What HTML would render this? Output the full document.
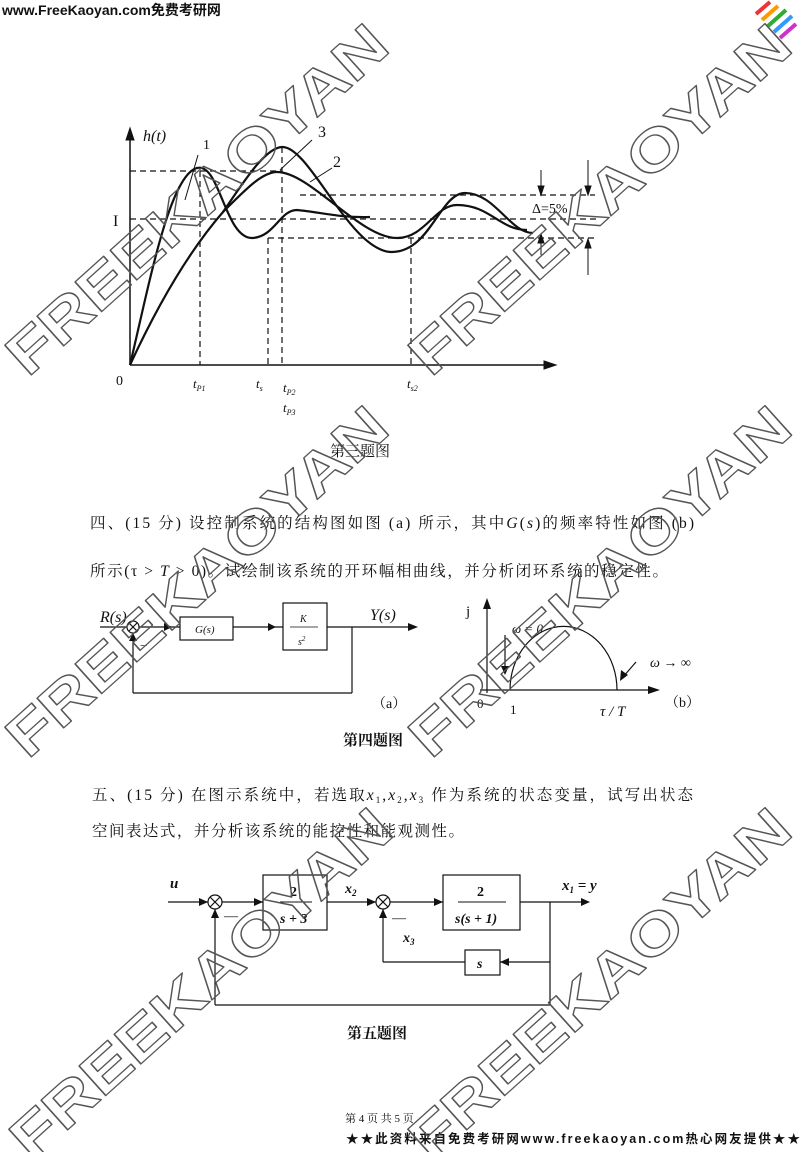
<!DOCTYPE html>
<html><head><meta charset="utf-8"><style>
body{margin:0;background:#fff;}
svg{display:block;}
.t{font-family:"Liberation Serif","Noto Serif CJK SC",serif;fill:#111;}
.s{font-family:"Liberation Sans","Noto Sans CJK SC",sans-serif;fill:#111;}
.wm{font-family:"Liberation Sans",sans-serif;font-weight:bold;font-size:58px;fill:none;stroke:#555;stroke-width:1.3;stroke-linejoin:round;}
</style></head><body>
<svg width="800" height="1152" viewBox="0 0 800 1152" xmlns="http://www.w3.org/2000/svg">
<rect width="800" height="1152" fill="#fff"/>
<text x="2" y="15" class="s" font-size="14" font-weight="bold">www.FreeKaoyan.com免费考研网</text>
<g stroke-width="4">
<line x1="756" y1="14" x2="770" y2="2" stroke="#e33"/>
<line x1="762" y1="20" x2="778" y2="6" stroke="#f90"/>
<line x1="768" y1="26" x2="786" y2="10" stroke="#3a3"/>
<line x1="774" y1="32" x2="792" y2="16" stroke="#39f"/>
<line x1="780" y1="38" x2="796" y2="24" stroke="#c3c"/>
</g>

<g stroke="#111" fill="none">
<line x1="130" y1="365" x2="130" y2="135" stroke-width="1.5"/>
<polygon points="130,128 126,140 134,140" fill="#111"/>
<line x1="130" y1="365" x2="545" y2="365" stroke-width="1.5"/>
<polygon points="556,365 544,361 544,369" fill="#111"/>
<g stroke-dasharray="6,4" stroke-width="1.2">
<line x1="130" y1="171" x2="282" y2="171"/>
<line x1="130" y1="219" x2="600" y2="219"/>
<line x1="300" y1="195" x2="595" y2="195"/>
<line x1="268" y1="238" x2="595" y2="238"/>
<line x1="200" y1="171" x2="200" y2="365"/>
<line x1="268" y1="238" x2="268" y2="365"/>
<line x1="282" y1="147" x2="282" y2="365"/>
<line x1="411" y1="238" x2="411" y2="365"/>
</g>
<g stroke-width="2.2">
<path d="M130,365 C150,280 170,175 197,168 C220,162 225,240 253,238 C275,236 280,210 297,210 C320,212 340,218 370,217"/>
<path d="M130,365 C160,300 190,250 223,212 C245,180 265,148 282,147 C310,146 350,252 392,252 C430,252 440,193 465,193 C495,193 510,233 533,233"/>
<path d="M223,212 C245,190 262,172 277,172 C310,172 360,238 397,238 C425,238 435,205 457,205 C490,205 500,230 527,230"/>
</g>
<line x1="185" y1="200" x2="198" y2="155" stroke-width="1"/>
<line x1="280" y1="170" x2="312" y2="140" stroke-width="1"/>
<line x1="310" y1="182" x2="332" y2="168" stroke-width="1"/>
<line x1="541" y1="170" x2="541" y2="190"/><polygon points="541,195 538,186 544,186" fill="#111"/>
<line x1="541" y1="255" x2="541" y2="240"/><polygon points="541,234 538,243 544,243" fill="#111"/>
<line x1="588" y1="160" x2="588" y2="190"/><polygon points="588,195 585,186 591,186" fill="#111"/>
<line x1="588" y1="275" x2="588" y2="245"/><polygon points="588,239 585,248 591,248" fill="#111"/>
</g>
<text x="143" y="141" class="t" font-size="16" font-style="italic">h(t)</text>
<text x="203" y="149" class="t" font-size="14">1</text>
<text x="318" y="137" class="t" font-size="16">3</text>
<text x="333" y="167" class="t" font-size="16">2</text>
<text x="113" y="226" class="t" font-size="16">I</text>
<text x="116" y="385" class="t" font-size="14">0</text>
<text x="193" y="388" class="t" font-size="13" font-style="italic">t<tspan font-size="8" dy="3">P1</tspan></text>
<text x="256" y="388" class="t" font-size="13" font-style="italic">t<tspan font-size="8" dy="3">s</tspan></text>
<text x="283" y="392" class="t" font-size="13" font-style="italic">t<tspan font-size="8" dy="3">P2</tspan></text>
<text x="283" y="412" class="t" font-size="13" font-style="italic">t<tspan font-size="8" dy="3">P3</tspan></text>
<text x="407" y="388" class="t" font-size="13" font-style="italic">t<tspan font-size="8" dy="3">s2</tspan></text>
<text x="532" y="213" class="t" font-size="14">Δ=5%</text>
<text x="330" y="456" class="t" font-size="15">第三题图</text>

<text x="90" y="528" class="t" font-size="15.5" textLength="604" lengthAdjust="spacing">四、(15 分) 设控制系统的结构图如图 (a) 所示，其中<tspan font-style="italic">G</tspan>(<tspan font-style="italic">s</tspan>)的频率特性如图 (b)</text>
<text x="90" y="576" class="t" font-size="15.5" textLength="578" lengthAdjust="spacing">所示(τ &gt; <tspan font-style="italic">T</tspan> &gt; 0)。试绘制该系统的开环幅相曲线，并分析闭环系统的稳定性。</text>

<g stroke="#111" fill="none" stroke-width="1.2">
<line x1="100" y1="627" x2="127" y2="627"/>
<circle cx="133" cy="627" r="6"/>
<line x1="129" y1="623" x2="137" y2="631"/><line x1="137" y1="623" x2="129" y2="631"/>
<line x1="139" y1="627" x2="180" y2="627"/>
<rect x="180" y="617" width="53" height="23"/>
<line x1="233" y1="627" x2="283" y2="627"/>
<rect x="283" y="603" width="44" height="47"/>
<line x1="327" y1="627" x2="410" y2="627"/>
<line x1="352" y1="627" x2="352" y2="693"/>
<line x1="352" y1="693" x2="133" y2="693"/>
<line x1="133" y1="693" x2="133" y2="633"/>
<line x1="290" y1="627" x2="318" y2="627" stroke-width="0.8"/>
<line x1="487" y1="693" x2="487" y2="605"/>
<line x1="480" y1="690" x2="648" y2="690"/>
<path d="M510,690 A53,63 0 0 1 617,690"/>
<line x1="505" y1="635" x2="505" y2="668"/>
<line x1="636" y1="662" x2="623" y2="677"/>
</g>
<polygon points="172,627 164,623 164,631" fill="#111"/>
<polygon points="276,627 268,623 268,631" fill="#111"/>
<polygon points="418,627 408,623 408,631" fill="#111"/>
<polygon points="133,633 129,641 137,641" fill="#111"/>
<polygon points="487,598 483,609 491,609" fill="#111"/>
<polygon points="660,690 648,686 648,694" fill="#111"/>
<polygon points="505,675 501,666 509,666" fill="#111"/>
<polygon points="620,681 621,670 628,675" fill="#111"/>
<text x="100" y="622" class="t" font-size="16" font-style="italic">R(s)</text>
<text x="140" y="650" class="t" font-size="13">−</text>
<text x="195" y="633" class="t" font-size="11" font-style="italic">G(s)</text>
<text x="300" y="622" class="t" font-size="10" font-style="italic">K</text>
<text x="298" y="645" class="t" font-size="10" font-style="italic">s<tspan font-size="7" dy="-4">2</tspan></text>
<text x="370" y="620" class="t" font-size="16" font-style="italic">Y(s)</text>
<text x="372" y="708" class="t" font-size="14">（a）</text>
<text x="466" y="616" class="t" font-size="15">j</text>
<text x="512" y="633" class="t" font-size="13" font-style="italic">ω = 0</text>
<text x="650" y="667" class="t" font-size="14" font-style="italic">ω → ∞</text>
<text x="477" y="708" class="t" font-size="13">0</text>
<text x="510" y="714" class="t" font-size="13">1</text>
<text x="600" y="716" class="t" font-size="15" font-style="italic">τ / T</text>
<text x="665" y="707" class="t" font-size="14">（b）</text>
<text x="343" y="745" class="t" font-size="15" font-weight="bold">第四题图</text>

<text x="92" y="800" class="t" font-size="15.5" textLength="601" lengthAdjust="spacing">五、(15 分) 在图示系统中，若选取<tspan font-style="italic">x</tspan><tspan font-size="9" dy="3">1</tspan><tspan dy="-3">,</tspan><tspan font-style="italic">x</tspan><tspan font-size="9" dy="3">2</tspan><tspan dy="-3">,</tspan><tspan font-style="italic">x</tspan><tspan font-size="9" dy="3">3</tspan><tspan dy="-3"> 作为系统的状态变量，试写出状态</tspan></text>
<text x="92" y="836" class="t" font-size="15.5" textLength="372" lengthAdjust="spacing">空间表达式，并分析该系统的能控性和能观测性。</text>

<g stroke="#111" fill="none" stroke-width="1.2">
<line x1="168" y1="902" x2="208" y2="902"/>
<circle cx="215" cy="902" r="7"/>
<line x1="210" y1="897" x2="220" y2="907"/><line x1="220" y1="897" x2="210" y2="907"/>
<line x1="222" y1="902" x2="263" y2="902"/>
<rect x="263" y="875" width="64" height="55"/>
<line x1="327" y1="902" x2="376" y2="902"/>
<circle cx="383" cy="902" r="7"/>
<line x1="378" y1="897" x2="388" y2="907"/><line x1="388" y1="897" x2="378" y2="907"/>
<line x1="390" y1="902" x2="443" y2="902"/>
<rect x="443" y="875" width="77" height="55"/>
<line x1="520" y1="902" x2="585" y2="902"/>
<line x1="550" y1="902" x2="550" y2="1005"/>
<line x1="550" y1="1005" x2="215" y2="1005"/>
<line x1="215" y1="1005" x2="215" y2="909"/>
<line x1="550" y1="962" x2="500" y2="962"/>
<rect x="465" y="950" width="35" height="25"/>
<line x1="465" y1="962" x2="383" y2="962"/>
<line x1="383" y1="962" x2="383" y2="909"/>
<line x1="280" y1="902" x2="312" y2="902" stroke-width="1"/>
<line x1="458" y1="902" x2="506" y2="902" stroke-width="1"/>
</g>
<polygon points="208,902 199,898 199,906" fill="#111"/>
<polygon points="263,902 254,898 254,906" fill="#111"/>
<polygon points="376,902 367,898 367,906" fill="#111"/>
<polygon points="443,902 434,898 434,906" fill="#111"/>
<polygon points="590,902 581,898 581,906" fill="#111"/>
<polygon points="500,962 509,958 509,966" fill="#111"/>
<polygon points="215,909 211,918 219,918" fill="#111"/>
<polygon points="383,909 379,918 387,918" fill="#111"/>
<text x="170" y="888" class="t" font-size="15" font-style="italic" font-weight="bold">u</text>
<text x="224" y="920" class="t" font-size="14">—</text>
<text x="290" y="896" class="t" font-size="14" font-weight="bold">2</text>
<text x="280" y="923" class="t" font-size="14" font-style="italic" font-weight="bold">s + 3</text>
<text x="345" y="893" class="t" font-size="14" font-style="italic" font-weight="bold">x<tspan font-size="9" dy="3">2</tspan></text>
<text x="392" y="922" class="t" font-size="14">—</text>
<text x="403" y="942" class="t" font-size="14" font-style="italic" font-weight="bold">x<tspan font-size="9" dy="3">3</tspan></text>
<text x="477" y="896" class="t" font-size="14" font-weight="bold">2</text>
<text x="455" y="923" class="t" font-size="14" font-style="italic" font-weight="bold">s(s + 1)</text>
<text x="477" y="968" class="t" font-size="14" font-style="italic" font-weight="bold">s</text>
<text x="562" y="890" class="t" font-size="15" font-style="italic" font-weight="bold">x<tspan font-size="9" dy="3">1</tspan><tspan dy="-3"> = y</tspan></text>
<text x="347" y="1038" class="t" font-size="15" font-weight="bold">第五题图</text>

<text x="345" y="1122" class="t" font-size="11">第 4 页 共 5 页</text>
<text x="346" y="1143" class="s" font-size="12.5" font-weight="bold" textLength="454" lengthAdjust="spacing">★★此资料来自免费考研网www.freekaoyan.com热心网友提供★★</text>

<g>
<text class="wm" transform="translate(28,378) rotate(-42)" textLength="490" lengthAdjust="spacingAndGlyphs">FREEKAOYAN</text>
<text class="wm" transform="translate(431,378) rotate(-42)" textLength="490" lengthAdjust="spacingAndGlyphs">FREEKAOYAN</text>
<text class="wm" transform="translate(28,760) rotate(-42)" textLength="490" lengthAdjust="spacingAndGlyphs">FREEKAOYAN</text>
<text class="wm" transform="translate(431,760) rotate(-42)" textLength="490" lengthAdjust="spacingAndGlyphs">FREEKAOYAN</text>
<text class="wm" transform="translate(32,1162) rotate(-42)" textLength="490" lengthAdjust="spacingAndGlyphs">FREEKAOYAN</text>
<text class="wm" transform="translate(431,1162) rotate(-42)" textLength="490" lengthAdjust="spacingAndGlyphs">FREEKAOYAN</text>
</g>
</svg>
</body></html>
